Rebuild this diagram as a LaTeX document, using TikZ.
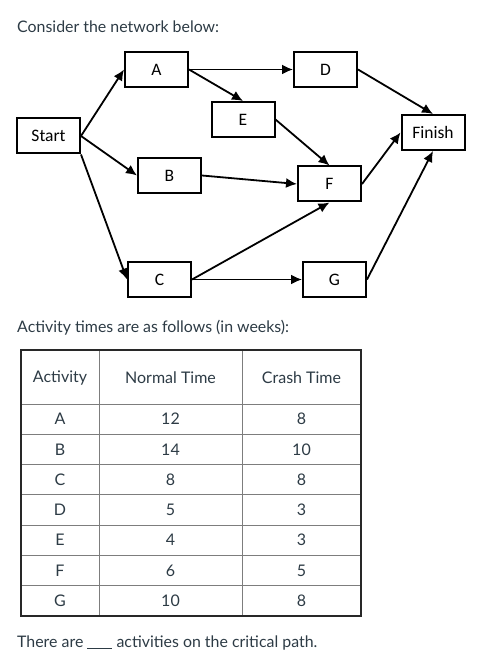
\documentclass[tikz,border=0pt]{standalone}
\usepackage{fontspec}
\setmainfont{Lato}
\newfontfamily\boxfont{Carlito}
\usetikzlibrary{arrows.meta}
\definecolor{slate}{RGB}{45,59,69}
\definecolor{rulegray}{RGB}{125,125,125}
\definecolor{framegray}{RGB}{40,40,40}

\begin{document}
\begin{tikzpicture}[x=1pt,y=-1pt,
  netbox/.style={draw,line width=2pt,minimum width=63pt,minimum height=35pt,inner sep=0pt,
    font=\boxfont\fontsize{17.5}{20}\selectfont},
  netarrow/.style={line width=1.8pt,-{Latex[length=11pt,width=10pt]}},
  prose/.style={anchor=base west,inner sep=0pt,text=slate,font=\fontsize{15.9}{19}\selectfont},
  cell/.style={text=slate,inner sep=0pt,font=\fontsize{16}{19}\selectfont}]
\useasboundingbox (0,0) rectangle (496,668);

\node[prose] (intro) at (17,33) {Consider the network below:};

% network
\node[netbox] (Start)  at (48.5,136)  {Start};
\node[netbox] (A)      at (156.5,69.5) {A};
\node[netbox] (E)      at (243,119.5)  {E};
\node[netbox] (D)      at (325.5,69.5) {D};
\node[netbox] (B)      at (169.5,175.5) {B};
\node[netbox] (F)      at (329.5,184)  {F};
\node[netbox] (C)      at (159.5,279.5) {C};
\node[netbox] (G)      at (334.5,279.5) {G};
\node[netbox] (Finish) at (433,132.5)  {Finish};

\draw[netarrow] (Start.east) -- (A.west);
\draw[netarrow] (Start.east) -- (B.west);
\draw[netarrow] (Start.south east) -- (C.west);
\draw[netarrow] (A.east) -- (D.west);
\draw[netarrow] (A.east) -- (E.north);
\draw[netarrow] (E.east) -- (F.north);
\draw[netarrow] (B.east) -- (F.west);
\draw[netarrow] (C.east) -- (F.south);
\draw[netarrow] (C.east) -- (G.west);
\draw[netarrow] (D.east) -- (Finish.north);
\draw[netarrow] (F.east) -- (Finish.west);
\draw[netarrow] (G.east) -- (Finish.south);

\node[prose] (times) at (17,332) {Activity times are as follows (in weeks):};

% table
\foreach \k in {0,...,6}
  \draw[rulegray,line width=0.9pt] (21,404+30.29*\k) -- (361,404+30.29*\k);
\draw[rulegray,line width=0.9pt] (99,350) -- (99,616);
\draw[rulegray,line width=0.9pt] (242,350) -- (242,616);
\draw[framegray,line width=1.3pt] (21,350) rectangle (361,616);

\node[cell] (headAct)   at (60,378)    {Activity};
\node[cell] (headNorm)  at (170.5,378) {Normal Time};
\node[cell] (headCrash) at (301.5,378) {Crash Time};
\foreach \act/\norm/\crash [count=\i from 0] in {A/12/8,B/14/10,C/8/8,D/5/3,E/4/3,F/6/5,G/10/8}{
  \node[cell] (act-\act)   at (60,419.1+30.29*\i)    {\act};
  \node[cell] (norm-\act)  at (170.5,419.1+30.29*\i) {\norm};
  \node[cell] (crash-\act) at (301.5,419.1+30.29*\i) {\crash};
}

\node[prose] (question) at (17,647)
  {There are \rule[-1.5pt]{25pt}{0.8pt} activities on the critical path.};
\end{tikzpicture}
\end{document}
